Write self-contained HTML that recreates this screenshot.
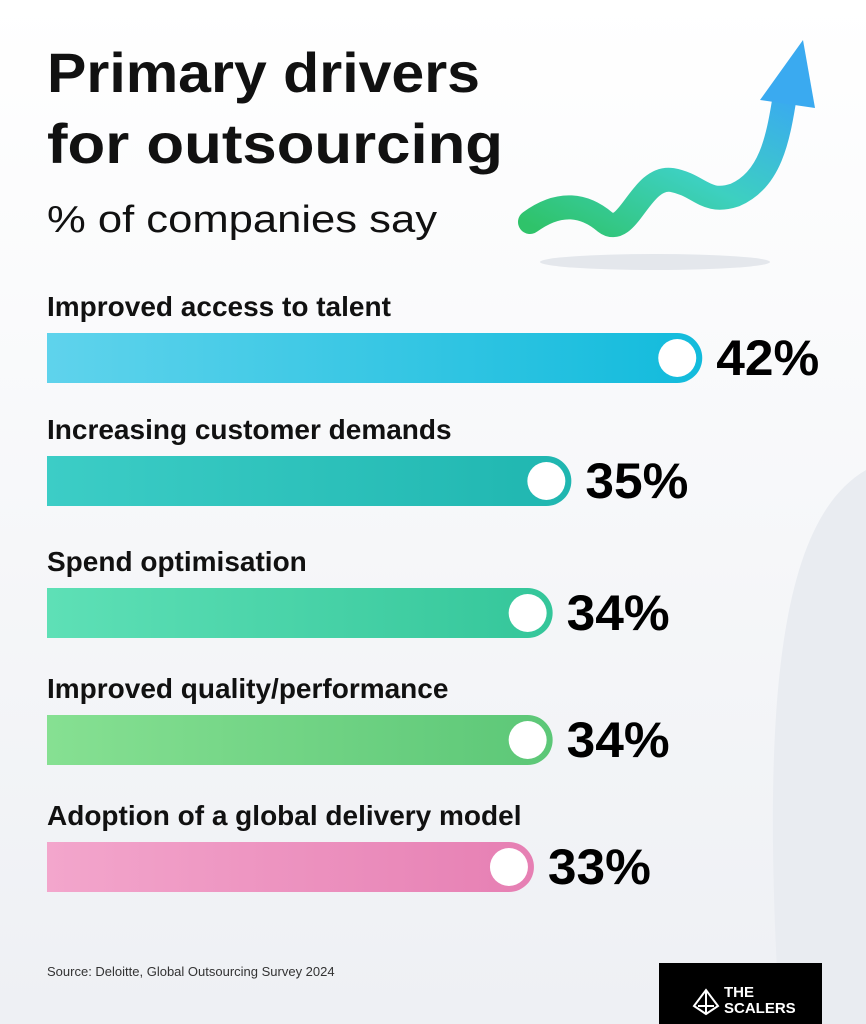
<!DOCTYPE html>
<html><head><meta charset="utf-8"><style>
html,body{margin:0;padding:0;background:#f7f8fa;}
svg{display:block;font-family:"Liberation Sans",sans-serif;}
</style></head><body>
<svg id="chart" width="866" height="1024" viewBox="0 0 866 1024">
<defs>
<linearGradient id="bg" x1="0" y1="0" x2="0" y2="1"><stop offset="0" stop-color="#ffffff"/><stop offset="1" stop-color="#eef0f4"/></linearGradient>
<linearGradient id="arrowg" x1="0" y1="1" x2="1" y2="0"><stop offset="0" stop-color="#2fc36a"/><stop offset="0.5" stop-color="#3dd0c0"/><stop offset="1" stop-color="#3aaaf0"/></linearGradient>
<linearGradient id="g0" x1="0" x2="1"><stop offset="0" stop-color="#5fd3ec"/><stop offset="1" stop-color="#12bbdc"/></linearGradient>
<linearGradient id="g1" x1="0" x2="1"><stop offset="0" stop-color="#3ccdc6"/><stop offset="1" stop-color="#1fb6b0"/></linearGradient>
<linearGradient id="g2" x1="0" x2="1"><stop offset="0" stop-color="#5ee0b6"/><stop offset="1" stop-color="#34c69a"/></linearGradient>
<linearGradient id="g3" x1="0" x2="1"><stop offset="0" stop-color="#86e092"/><stop offset="1" stop-color="#5cc777"/></linearGradient>
<linearGradient id="g4" x1="0" x2="1"><stop offset="0" stop-color="#f3a6cc"/><stop offset="1" stop-color="#e67fb3"/></linearGradient>
</defs>
<rect width="866" height="1024" fill="url(#bg)"/>
<path d="M866 470 C780 520 760 700 780 1024 L866 1024 Z" fill="#e9ecf1"/>
<text x="47" y="92" font-size="56" font-weight="700" fill="#111" textLength="433" lengthAdjust="spacingAndGlyphs">Primary drivers</text>
<text x="47" y="163" font-size="56" font-weight="700" fill="#111" textLength="456" lengthAdjust="spacingAndGlyphs">for outsourcing</text>
<text x="47" y="232" font-size="38" fill="#111" textLength="390" lengthAdjust="spacingAndGlyphs">% of companies say</text>
<ellipse cx="655" cy="262" rx="115" ry="8" fill="#e4e7ec"/>
<g>
<path d="M530 222 C560 200 585 205 605 222 C628 240 640 175 672 180 C700 185 705 205 735 195 C770 180 778 140 785 95" stroke="url(#arrowg)" stroke-width="24" fill="none" stroke-linecap="round"/>
<polygon points="760,100 803,40 815,108" fill="#3aaaf0"/>
</g>
<g id="bars"></g>
<text x="47" y="976" font-size="13" fill="#333">Source: Deloitte, Global Outsourcing Survey 2024</text>
<g>
<rect x="659" y="963" width="163" height="61" fill="#000"/>
<path d="M694 1006 L706 990 L718 1006 L706 1014 Z M698 1006 L714 1006 M706 990 L706 1014" stroke="#fff" stroke-width="2" fill="none"/>
<text x="724" y="997" font-size="15" font-weight="700" fill="#fff">THE</text>
<text x="724" y="1013" font-size="15" font-weight="700" fill="#fff">SCALERS</text>
</g>
</svg>
<script>
const categories=["Improved access to talent","Increasing customer demands","Spend optimisation","Improved quality/performance","Adoption of a global delivery model"];
const values=[42,35,34,34,33];
const valueLabels=["42%","35%","34%","34%","33%"];
const barTops=[333,456,588,715,842];
const x0=47, vMin=6.96, pxPer=18.7;
function xScale(v){return x0+(v-vMin)*pxPer;}
const g=document.getElementById('bars');
const ns='http://www.w3.org/2000/svg';
function mk(t,a){const e=document.createElementNS(ns,t);for(const k in a)e.setAttribute(k,a[k]);return e;}
categories.forEach((c,i)=>{
  const y=barTops[i],h=50,xe=xScale(values[i]);
  const lab=mk('text',{x:47,y:y-17,'font-size':28,'font-weight':'700',fill:'#111'});
  lab.textContent=c;
  
  
  g.appendChild(lab);
  const bar=mk('path',{d:`M${x0} ${y} H${xe-h/2} A${h/2} ${h/2} 0 0 1 ${xe-h/2} ${y+h} H${x0} Z`,fill:`url(#g${i})`});
  
  
  g.appendChild(bar);
  const dot=mk('circle',{cx:xe-25,cy:y+h/2,r:19,fill:'#fff'});
  
  
  g.appendChild(dot);
  const v=mk('text',{x:xe+14,y:y+h/2+17,'font-size':50,'font-weight':'900',fill:'#000',textLength:103,lengthAdjust:'spacingAndGlyphs'});
  v.textContent=valueLabels[i];
  
  
  g.appendChild(v);
});
</script>
</body></html>
